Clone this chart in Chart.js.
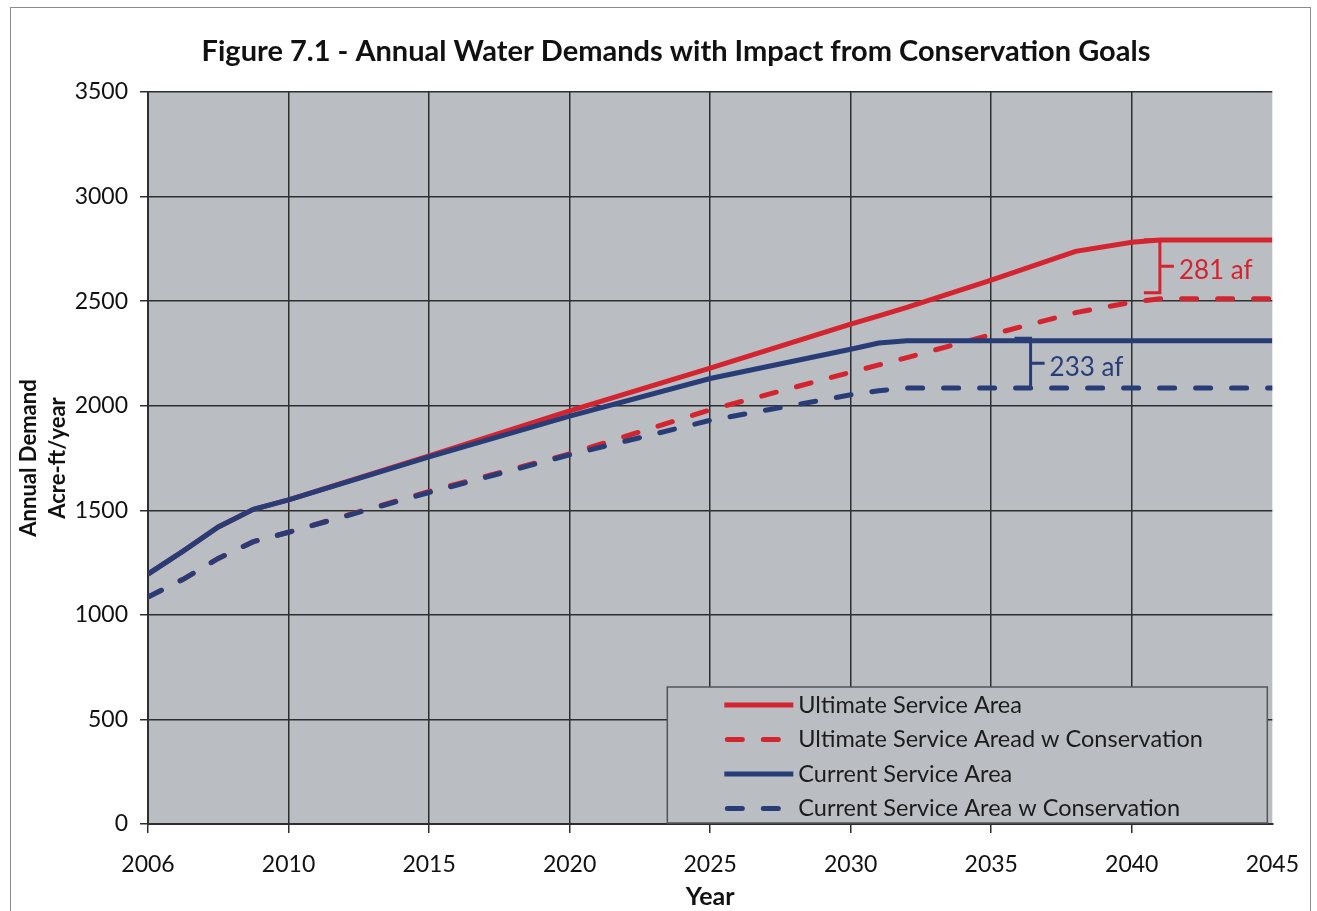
<!DOCTYPE html>
<html>
<head>
<meta charset="utf-8">
<title>Figure 7.1 - Annual Water Demands</title>
<script src="https://cdn.jsdelivr.net/npm/chart.js@4.4.1/dist/chart.umd.min.js"></script>
<style>
  html, body { margin: 0; padding: 0; background: #fff; }
  #wrap { position: relative; width: 1317px; height: 911px; overflow: hidden; }
  #chart { position: absolute; left: 0; top: 0; }
  #frame { position: absolute; left: 10px; top: 7px; width: 1301px; height: 930px;
           border: 1px solid #8c8c8c; box-sizing: border-box; pointer-events: none; }
</style>
</head>
<body>
<div id="wrap">
  <canvas id="chart" width="1317" height="911"></canvas>
  <div id="frame"></div>
</div>
<script>
// axis labels (evenly spaced on the category axis, like the original)
const tickYears = [2006, 2010, 2015, 2020, 2025, 2030, 2035, 2040, 2045];

const years = [2006, 2007, 2008, 2009, 2010, 2015, 2020, 2025, 2030, 2031, 2032, 2035, 2038, 2040, 2041, 2045];

// acre-ft / year
const ultimate     = [1195, 1305, 1420, 1505, 1550, 1760, 1975, 2180, 2390, 2430, 2470, 2600, 2738, 2782, 2792, 2792];
const ultimateCons = [1085, 1170, 1270, 1350, 1395, 1590, 1770, 1980, 2160, 2195, 2230, 2340, 2445, 2495, 2511, 2511];
const current      = [1195, 1305, 1420, 1505, 1550, 1755, 1950, 2130, 2270, 2300, 2311, 2311, 2311, 2311, 2311, 2311];
const currentCons  = [1085, 1170, 1270, 1350, 1395, 1585, 1765, 1930, 2052, 2072, 2085, 2085, 2085, 2085, 2085, 2085];

// difference callouts
const callouts = [
  { text: '281 af', year: 2041, from: 2793, to: 2540, color: '#d42430' },
  { text: '233 af', year: 2036.4, from: 2322, to: 2085, color: '#283d78' }
];

const RED = '#d42430';
const BLUE = '#283d78';
const GRID = '#2e2e2e';
const PLOT_BG = '#babdc1';
const FONT = 'Lato';

// year -> position on the (unevenly labelled) category axis
function yearToPos(y) {
  for (let i = 0; i < tickYears.length - 1; i++) {
    if (y <= tickYears[i + 1]) {
      return i + (y - tickYears[i]) / (tickYears[i + 1] - tickYears[i]);
    }
  }
  return tickYears.length - 1;
}

const pts = arr => years.map((y, i) => ({ x: yearToPos(y), y: arr[i] }));

const lastTick = tickYears.length - 1;

const decorations = {
  id: 'decorations',
  beforeDraw(chart) {
    const { ctx, chartArea: a } = chart;
    ctx.save();
    ctx.fillStyle = '#fff';
    ctx.fillRect(0, 0, chart.width, chart.height);
    ctx.fillStyle = PLOT_BG;
    ctx.fillRect(a.left, a.top, a.right - a.left, a.bottom - a.top);
    ctx.restore();
  },
  afterDraw(chart) {
    const { ctx, chartArea: a, scales } = chart;
    ctx.save();

    // title
    ctx.fillStyle = '#111';
    ctx.font = `bold 29px ${FONT}`;
    ctx.textAlign = 'center';
    ctx.textBaseline = 'middle';
    ctx.fillText('Figure 7.1 - Annual Water Demands with Impact from Conservation Goals', 676, 52);

    // callout brackets
    callouts.forEach(c => {
      const x = scales.x.getPixelForValue(yearToPos(c.year));
      const y1 = scales.y.getPixelForValue(c.from);
      const y2 = scales.y.getPixelForValue(c.to);
      const mid = (y1 + y2) / 2;
      ctx.strokeStyle = c.color;
      ctx.lineWidth = 3;
      ctx.beginPath();
      ctx.moveTo(x - 16, y1); ctx.lineTo(x, y1);
      ctx.lineTo(x, y2); ctx.lineTo(x - 16, y2);
      ctx.moveTo(x, mid); ctx.lineTo(x + 14, mid);
      ctx.stroke();
      ctx.fillStyle = c.color;
      ctx.font = `26px ${FONT}`;
      ctx.textAlign = 'left';
      ctx.textBaseline = 'middle';
      ctx.fillText(c.text, x + 19, mid + 4);
    });

    // legend box, lower right inside the plot
    const w = 600, h = 136;
    const left = a.right - w - 5, top = a.bottom - h - 1;
    ctx.fillStyle = PLOT_BG;
    ctx.fillRect(left, top, w, h);
    ctx.strokeStyle = '#555';
    ctx.lineWidth = 1.5;
    ctx.strokeRect(left, top, w, h);
    chart.data.datasets.forEach((ds, i) => {
      const y = top + 18 + i * 34.5;
      ctx.strokeStyle = ds.borderColor;
      ctx.lineWidth = 5;
      ctx.lineCap = ds.borderDash ? 'round' : 'butt';
      ctx.setLineDash(ds.borderDash || []);
      ctx.beginPath();
      ctx.moveTo(left + (ds.borderDash ? 60 : 57), y);
      ctx.lineTo(left + 126, y);
      ctx.stroke();
      ctx.setLineDash([]);
      ctx.fillStyle = '#1c1c1c';
      ctx.font = `23.5px ${FONT}`;
      ctx.textAlign = 'left';
      ctx.textBaseline = 'middle';
      ctx.fillText(ds.label, left + 131, y);
    });
    ctx.restore();
  }
};

const lineStyle = { borderWidth: 5, pointRadius: 0, tension: 0, fill: false };

new Chart(document.getElementById('chart'), {
  type: 'line',
  data: {
    datasets: [
      { ...lineStyle, label: 'Ultimate Service Area', data: pts(ultimate), borderColor: RED, order: 2 },
      { ...lineStyle, label: 'Ultimate Service Aread w Conservation', data: pts(ultimateCons), borderColor: RED,
        borderDash: [15, 21], borderCapStyle: 'round', order: 3 },
      { ...lineStyle, label: 'Current Service Area', data: pts(current), borderColor: BLUE, order: 0 },
      { ...lineStyle, label: 'Current Service Area w Conservation', data: pts(currentCons), borderColor: BLUE,
        borderDash: [15, 21], borderCapStyle: 'round', order: 1 }
    ]
  },
  options: {
    responsive: false,
    animation: false,
    events: [],
    layout: { padding: { top: 92, right: 44, bottom: 0, left: 0 } },
    plugins: {
      legend: { display: false },
      title: { display: false },
      tooltip: { enabled: false }
    },
    scales: {
      x: {
        type: 'linear',
        min: 0,
        max: lastTick,
        afterFit: s => { s.height = 87; },
        ticks: {
          stepSize: 1,
          autoSkip: false,
          maxRotation: 0,
          padding: 18,
          color: '#111',
          font: { family: FONT, size: 23 },
          callback: v => tickYears[v]
        },
        grid: {
          color: c => c.index === lastTick ? 'rgba(0,0,0,0)' : GRID,
          tickColor: c => c.index === lastTick ? 'rgba(0,0,0,0)' : GRID,
          lineWidth: 1.5,
          tickLength: 9
        },
        border: { color: GRID, width: 2 },
        title: {
          display: true,
          text: 'Year',
          color: '#111',
          font: { family: FONT, size: 25, weight: 'bold', lineHeight: 1.1 },
          padding: 0
        }
      },
      y: {
        min: 0,
        max: 3500,
        afterFit: s => { s.width = 148; },
        ticks: {
          stepSize: 500,
          padding: 12,
          color: '#111',
          font: { family: FONT, size: 23 },
          callback: v => String(v)
        },
        grid: { color: GRID, lineWidth: 1.5, tickLength: 8 },
        border: { color: GRID, width: 2 },
        title: {
          display: true,
          text: ['Annual Demand', 'Acre-ft/year'],
          color: '#111',
          font: { family: FONT, size: 22, weight: 'bold', lineHeight: 1.3 },
          padding: { top: 15 }
        }
      }
    }
  },
  plugins: [decorations]
});
</script>
</body>
</html>
